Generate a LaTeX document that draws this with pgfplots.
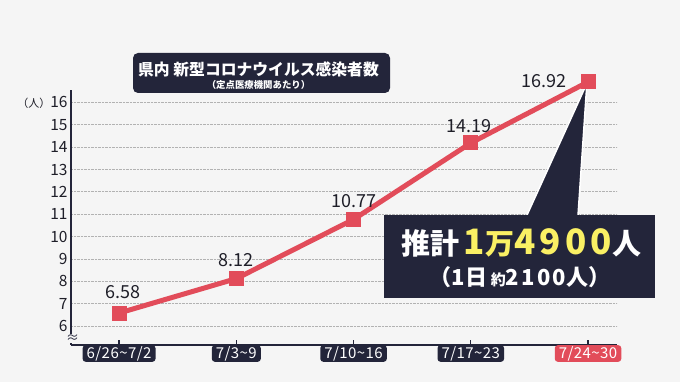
\documentclass[border=0pt]{standalone}
\usepackage{fontspec}
\setmainfont{Noto Sans CJK JP}
\usepackage{pgfplots}
\pgfplotsset{compat=1.18}
\usepackage{pgfplotstable}
\definecolor{bg}{RGB}{245,245,245}
\definecolor{navy}{RGB}{35,37,58}
\definecolor{lred}{RGB}{226,76,90}
\definecolor{yel}{RGB}{250,240,100}
\definecolor{txt}{RGB}{30,30,40}

\pgfplotstableread{
x y dx dy lab
0 6.58 4 21 6.58
1 8.12 0 19 8.12
2 10.77 0 18 10.77
3 14.19 -2 17 14.19
4 16.92 -44 1 16.92
}\data

\begin{document}
\begin{tikzpicture}[x=1pt,y=1pt]
\fill[bg] (0,0) rectangle (680,382);
% title box
\fill[navy, rounded corners=5pt] (133,289) rectangle (390,329);
\node[text=white, font=\bfseries\fontsize{15.8}{16}\selectfont] at (258.5,313) {県内\ 新型コロナウイルス感染者数};
\node[text=white, font=\bfseries\fontsize{9.4}{10}\selectfont] at (258.5,297) {（定点医療機関あたり）};

\begin{axis}[
  at={(71pt,37pt)}, anchor=south west,
  scale only axis, width=546pt, height=255pt,
  xmin=-0.41, xmax=4.247, ymin=5.15, ymax=16.56,
  clip=false,
  axis lines*=left,
  axis line style={line width=1.6pt, navy},
  ytick={6,...,16},
  yticklabels={6,7,8,9,10,11,12,13,14,15,{\fontsize{11}{11}\selectfont（人）}16},
  yticklabel style={text=txt, font=\fontsize{15.5}{15.5}\selectfont},
  ytick style={draw=none},
  ymajorgrids,
  grid style={densely dotted, black!30, line width=0.9pt},
  xtick={0,1,2,3},
  xticklabels={6/26\textasciitilde7/2, 7/3\textasciitilde9, 7/10\textasciitilde16, 7/17\textasciitilde23},
  extra x ticks={4},
  extra x tick labels={7/24\textasciitilde30},
  extra x tick style={xticklabel style={fill=lred}},
  xtick style={navy, line width=1.2pt},
  tick align=inside,
  major tick length=5pt,
  xticklabel style={fill=navy, text=white, rounded corners=3pt, inner xsep=4pt, inner ysep=1pt, font=\fontsize{15}{15}\selectfont\addfontfeatures{LetterSpace=3}},
]
\fill[navy, draw=white, line width=1.5pt] (axis cs:3.448,10.6) -- (axis cs:3.99,16.85) -- (axis cs:3.910,10.6) -- cycle;
\addplot[lred, line width=5pt, mark=square*, mark size=7pt,
  mark options={solid, fill=lred, draw=lred, line width=0pt},
  point meta=explicit symbolic,
  visualization depends on={\thisrow{dx} \as \ldx},
  visualization depends on={\thisrow{dy} \as \ldy},
  nodes near coords,
  nodes near coords style={anchor=center, xshift=\ldx pt, yshift=\ldy pt, text=txt, font=\fontsize{18}{18}\selectfont},
] table[x=x, y=y, meta=lab] {\data};
\end{axis}

% axis break symbol
\node[fill=bg, inner xsep=1pt, inner ysep=0pt, minimum height=9pt, text=navy, font=\fontsize{13}{13}\selectfont] at (72.5,43) {≈};

% callout box
\fill[navy] (384,84) rectangle (655,167);
\node[text=white, font=\bfseries\fontsize{29}{29}\selectfont] at (521,139) {推計\,{\color{yel}{\fontsize{35}{35}\selectfont\addfontfeatures{LetterSpace=12}1}万{\fontsize{35}{35}\selectfont\addfontfeatures{LetterSpace=12}4900}}人};
\node[text=white, font=\bfseries\fontsize{22}{22}\selectfont] at (520,105) {（{\addfontfeatures{LetterSpace=10}1}日\,{\fontsize{15}{15}\selectfont 約}{\addfontfeatures{LetterSpace=10}2100}人）};
\end{tikzpicture}
\end{document}
